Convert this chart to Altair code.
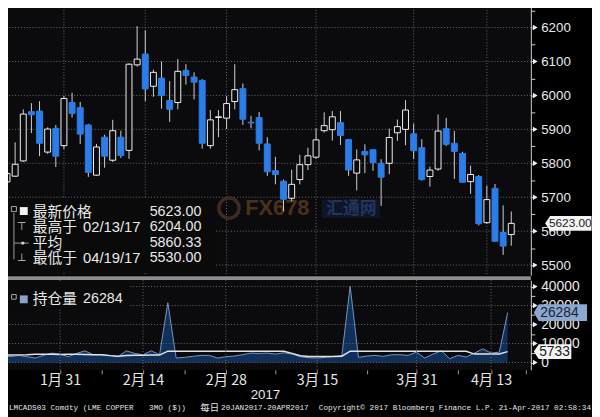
import altair as alt
import pandas as pd

# ---------------- data ----------------
dates = ["01/20","01/23","01/24","01/25","01/26","01/27","01/30","01/31",
         "02/01","02/02","02/03","02/06","02/07","02/08","02/09","02/10",
         "02/13","02/14","02/15","02/16","02/17","02/20","02/21","02/22","02/23","02/24","02/27","02/28",
         "03/01","03/02","03/03","03/06","03/07","03/08","03/09","03/10","03/13","03/14","03/15","03/16","03/17",
         "03/20","03/21","03/22","03/23","03/24","03/27","03/28","03/29","03/30","03/31",
         "04/03","04/04","04/05","04/06","04/07","04/10","04/11","04/12","04/13","04/18","04/19","04/20"]

opens = [5745,5762,5807,5952,5954,5833,5903,5852,5979,5964,
         5913,5765,5877,5809,5877,5838,6090,6122,6027,6051,
         5985,5979,6074,6054,6044,5852,5935,5933,5982,6020,
         5921,5935,5857,5778,5747,5697,5752,5796,5818,5896,
         5899,5920,5870,5771,5835,5840,5800,5800,5890,5900,
         5887,5846,5761,5783,5902,5859,5829,5746,5761,5625,
         5726,5596,5590]
highs = [5790,5862,5959,5977,5983,5906,5913,5998,6008,5981,
         5916,5857,5884,5928,5896,6095,6204,6192,6076,6100,
         6042,6107,6092,6068,6048,5957,5957,5998,6092,6035,
         5940,5951,5877,5819,5752,5781,5825,5846,5903,5950,
         5954,5954,5872,5841,5856,5840,5812,5902,5929,5986,
         5917,5871,5790,5944,5934,5895,5834,5793,5765,5734,
         5739,5676,5658]
lows = [5730,5760,5804,5889,5821,5828,5789,5842,5935,5857,
        5760,5763,5787,5804,5816,5813,6085,5983,5996,5961,
        5922,5959,6032,5988,5843,5843,5877,5901,5959,5913,
        5903,5838,5763,5738,5659,5688,5738,5780,5813,5891,
        5867,5854,5763,5720,5771,5778,5674,5768,5866,5853,
        5812,5749,5731,5778,5851,5754,5742,5710,5617,5622,
        5568,5530,5557]
closes = [5770,5797,5945,5943,5859,5901,5821,5991,5947,5886,
          5773,5848,5821,5896,5823,6092,6107,6019,6068,6000,
          5959,6071,6059,6039,5859,5928,5937,5976,6017,5930,
          5919,5859,5775,5767,5694,5738,5796,5822,5869,5911,
          5937,5882,5780,5810,5825,5802,5759,5876,5908,5957,
          5837,5752,5780,5895,5856,5835,5744,5767,5622,5693,
          5570,5556,5623]

# open interest (data through 04/19)
open_interest = [3730,3030,3730,3030,2340,3730,4940,4420,3030,4770,
                 6150,4070,4070,3730,3030,6150,4770,4070,6150,4070,
                 31460,2340,2690,3210,3730,3730,2340,3030,3380,4070,
                 4940,4770,4940,4420,5110,4420,3030,2510,2340,2690,
                 3210,3730,40300,2690,3380,3730,3210,4070,4070,3730,
                 5460,2340,4420,6150,1990,3730,2860,4940,7190,4940,
                 5460,26284]
oi_white = [3900,3950,4000,4100,4300,4300,4300,4200,4300,4300,
            4200,4100,4100,3600,3300,3700,3800,3800,3900,3900,
            5950,5950,5950,5950,5950,5950,5950,5950,5950,5950,
            5950,5950,5950,5950,5900,4800,3500,3150,3100,3100,
            3150,3300,5950,5950,5950,5950,5950,5950,5950,5950,
            5950,5950,5950,5950,5950,5950,5950,4420,4420,4420,
            4420,5733]

avg_text = "5860.33"
axis_label_dates = ["01/31", "02/14", "02/28", "03/15", "03/31", "04/13"]
axis_label_text = ["1月 31", "2月 14", "2月 28", "3月 15", "3月 31", "4月 13"]
tick_dates = ["01/31","02/07","02/14","02/21","02/28","03/08","03/15","03/23","03/31","04/07","04/13"]
price_major = [5500, 5600, 5700, 5800, 5900, 6000, 6100, 6200]
oi_major = [0, 10000, 20000, 30000, 40000]

# ---------------- style ----------------
FONT = "Liberation Sans"
CJK = "Noto Sans CJK SC"
MONO = "Liberation Mono"
BLUE = "#2b7de9"
GRID = "#6a6a6a"
W, H1, H2 = 537, 275, 91

n = len(dates)
cd = pd.DataFrame({"i": list(range(n)), "date": dates, "o": opens, "h": highs,
                   "l": lows, "c": closes})
cd["up"] = cd["c"] >= cd["o"]
oid = pd.DataFrame({"i": list(range(len(open_interest))), "oi": open_interest, "w": oi_white})

label_idx = [dates.index(d) for d in axis_label_dates]
tick_idx = [dates.index(d) for d in tick_dates] + [63.2]

xs = alt.Scale(domain=[-0.12, 63.8], nice=False, zero=False)
ys1 = alt.Scale(domain=[5470.3, 6269.8], nice=False, zero=False)
ys2 = alt.Scale(domain=[-3900, 43420], nice=False, zero=False)

yaxis1 = alt.Axis(orient="right", values=list(range(5500, 6300, 50)),
                  labelExpr="datum.value % 100 == 0 ? '' + datum.value : ''",
                  title=None, grid=False, domain=True, domainColor="#cfcfcf",
                  tickColor="#cfcfcf", tickSize=4, labelPadding=6, labelFont=FONT,
                  labelFontSize=13.5, labelColor="#e8e8e8", labelOverlap=False,
                  labelBound=False, labelFlush=False)
yaxis2 = alt.Axis(orient="right", values=list(range(0, 45000, 5000)),
                  labelExpr="datum.value % 10000 == 0 ? '' + datum.value : ''",
                  title=None, grid=False, domain=True, domainColor="#cfcfcf",
                  tickColor="#cfcfcf", tickSize=4, labelPadding=6, labelFont=FONT,
                  labelFontSize=14, labelColor="#e8e8e8", labelOverlap=False,
                  labelBound=False, labelFlush=False)
expr = "".join(f"datum.value == {i} ? '{t}' : " for i, t in zip(label_idx, axis_label_text)) + "''"
xaxis2 = alt.Axis(values=tick_idx, labelExpr=expr, title=None, grid=False, domain=False,
                  tickColor="#9a9a9a", tickSize=4, labelFont=CJK, labelFontSize=14.5,
                  labelColor="#e6e6e6", labelPadding=6.5, labelBaseline="middle",
                  labelOverlap=False, labelBound=False, labelFlush=False)

X1 = alt.X("i:Q", scale=xs, axis=None)
X2 = alt.X("i:Q", scale=xs, axis=xaxis2)


def one():
    return pd.DataFrame({"k": [0]})


def text(s, x, y, size, color="#e8e8e8", font=CJK, align="left", weight="normal"):
    return alt.Chart(pd.DataFrame({"t": [s]})).mark_text(
        align=align, baseline="middle", font=font, fontSize=size, color=color,
        fontWeight=weight).encode(x=alt.value(x), y=alt.value(y), text="t:N")


def box(x1, x2, y1, y2, color):
    return alt.Chart(one()).mark_rect(color=color).encode(
        x=alt.value(x1), x2=alt.value(x2), y=alt.value(y1), y2=alt.value(y2))


def tag_path(w, h, tip):
    a = 2.0 / w
    hh = h / 2 * a
    t = -1 + tip * a
    return f"M -1 0 L {t:.3f} {-hh:.3f} L 1 {-hh:.3f} L 1 {hh:.3f} L {t:.3f} {hh:.3f} Z"


def tag(value, yscale, yaxis, cx, w, h, fill, txt, tcolor, tsize, tx):
    d = pd.DataFrame({"v": [value], "t": [txt]})
    Y = alt.Y("v:Q", scale=yscale, axis=yaxis)
    shape = alt.Chart(d).mark_point(shape=tag_path(w, h, 5), filled=True, color=fill,
                                    opacity=1, size=w * w).encode(x=alt.value(cx), y=Y)
    lab = alt.Chart(d).mark_text(align="center", baseline="middle", font=FONT,
                                 fontSize=tsize, color=tcolor).encode(
        x=alt.value(tx), y=Y, text="t:N")
    return [shape, lab]


# ---------------- main panel ----------------
Y1 = lambda f: alt.Y(f, scale=ys1, axis=yaxis1)

hgrid1 = alt.Chart(pd.DataFrame({"v": price_major})).mark_rule(
    color=GRID, strokeDash=[1, 2], strokeWidth=1).encode(y=Y1("v:Q"))
vgrid1 = alt.Chart(pd.DataFrame({"i": label_idx})).mark_rule(
    color=GRID, strokeDash=[1, 2], strokeWidth=1).encode(x=X1)

wm = [
    alt.Chart(one()).mark_point(shape="circle", filled=False, stroke="#3e2a22",
                                strokeWidth=3.5, size=420, opacity=1).encode(
        x=alt.value(231), y=alt.value(207)),
    text("FX678", 280, 207, 22, color="#4a3219", font=FONT, align="center", weight="bold"),
    box(325, 384, 198, 217, "#0d1527"),
    text("汇通网", 355, 207.5, 17, color="#22355c", align="center", weight="bold"),
]

wicks = alt.Chart(cd).mark_rule(color="#d2d2d2", strokeWidth=1, clip=True).encode(
    x=X1, y=Y1("l:Q"), y2="h:Q")
bodies = alt.Chart(cd).mark_bar(size=6, strokeWidth=1, clip=True).encode(
    x=X1, y=Y1("o:Q"), y2="c:Q",
    fill=alt.condition("datum.up", alt.value("#0b0b0e"), alt.value(BLUE)),
    stroke=alt.condition("datum.up", alt.value("#f2f2f2"), alt.value(BLUE)))

hi_i = highs.index(max(highs))
lo_i = lows.index(min(lows))
legend1 = [
    box(3, 216, 197, 271, "#0a0a0a"),
    alt.Chart(one()).mark_point(shape="square", filled=False, stroke="#a8a8a8",
                                strokeWidth=1, size=26, opacity=1).encode(
        x=alt.value(13), y=alt.value(208)),
    alt.Chart(one()).mark_point(shape="square", filled=True, color="#f2f2f2",
                                size=64, opacity=1).encode(x=alt.value(23), y=alt.value(210)),
    alt.Chart(one()).mark_rule(color="#9a9a9a").encode(
        x=alt.value(13), y=alt.value(212), y2=alt.value(259)),
    alt.Chart(one()).mark_rule(color="#9a9a9a").encode(
        x=alt.value(13), x2=alt.value(28), y=alt.value(242.5)),
    alt.Chart(one()).mark_point(shape="circle", filled=True, color="#cfcfcf",
                                size=12, opacity=1).encode(x=alt.value(22), y=alt.value(242.5)),
    text("⊤", 21, 226.5, 11, color="#c8c8c8", font="DejaVu Sans", align="center"),
    text("⊥", 21, 258, 11, color="#c8c8c8", font="DejaVu Sans", align="center"),
    text("最新价格", 32, 211, 15),
    text("最高于", 32, 226.5, 15),
    text("平均", 32, 242.5, 15),
    text("最低于", 32, 258, 15),
    text(dates[hi_i] + "/17", 83, 226.5, 15, font=FONT),
    text(dates[lo_i] + "/17", 83, 258, 15, font=FONT),
    text(f"{closes[-1]:.2f}", 203, 211, 14.5, font=FONT, align="right"),
    text(f"{highs[hi_i]:.2f}", 203, 226.5, 14.5, font=FONT, align="right"),
    text(avg_text, 203, 242.5, 14.5, font=FONT, align="right"),
    text(f"{lows[lo_i]:.2f}", 203, 258, 14.5, font=FONT, align="right"),
]

tri1 = alt.Chart(pd.DataFrame({"v": price_major})).mark_point(
    shape="triangle-right", filled=True, color="#f0f0f0", size=30, opacity=1).encode(
    x=alt.value(541.5), y=Y1("v:Q"))

tag1 = tag(closes[-1], ys1, yaxis1, 575, 47, 15, "#f4f4f4", f"{closes[-1]:.2f}",
           "#202020", 12, 577)

main = alt.layer(hgrid1, vgrid1, *wm, wicks, bodies, *legend1, tri1, *tag1).properties(
    width=W, height=H1)

# ---------------- open interest panel ----------------
Y2 = lambda f: alt.Y(f, scale=ys2, axis=yaxis2)

area = alt.Chart(oid).mark_area(
    color="#10305a", opacity=1, clip=True,
    line=alt.OverlayMarkDef(color="#7a95bd", strokeWidth=1)).encode(
    x=X2, y=Y2("oi:Q"), y2=alt.value(H2))
wline = alt.Chart(oid).mark_line(color="#e2e2e2", strokeWidth=1.5, clip=True).encode(
    x=X2, y=Y2("w:Q"))
hgrid2 = alt.Chart(pd.DataFrame({"v": oi_major})).mark_rule(
    color=GRID, strokeDash=[1, 2], strokeWidth=1).encode(y=Y2("v:Q"))
vgrid2 = alt.Chart(pd.DataFrame({"i": label_idx})).mark_rule(
    color=GRID, strokeDash=[1, 2], strokeWidth=1).encode(x=X2)

legend2 = [
    box(3, 130, 2, 29, "#0a0a0a"),
    alt.Chart(one()).mark_point(shape="square", filled=False, stroke="#a8a8a8",
                                strokeWidth=1, size=22, opacity=1).encode(
        x=alt.value(13), y=alt.value(17)),
    alt.Chart(one()).mark_point(shape="square", filled=True, color="#89a3c9",
                                size=64, opacity=1).encode(x=alt.value(23), y=alt.value(19.5)),
    text("持仓量", 32, 19.7, 15),
    text(str(open_interest[-1]), 83, 19.7, 14.5, font=FONT),
]

tri2 = alt.Chart(pd.DataFrame({"v": oi_major})).mark_point(
    shape="triangle-right", filled=True, color="#f0f0f0", size=30, opacity=1).encode(
    x=alt.value(541.5), y=Y2("v:Q"))

tag2a = tag(open_interest[-1], ys2, yaxis2, 567, 54, 17, "#8ea7cc",
            str(open_interest[-1]), "#14233d", 14, 566)
tag2b = tag(oi_white[-1], ys2, yaxis2, 559, 38, 15, "#f4f4f4",
            str(oi_white[-1]), "#202020", 14, 561)

sep = box(0, W, -4, 0, "#8d8d8d")
year = text("2017", 268, 117, 13.5, font=FONT, align="center", color="#e6e6e6")
FC = "#e4e4e4"
footer = [
    text("LMCADS03 Comdty (LME COPPER", 8, 130, 7.8, font=MONO, color=FC),
    text("3MO ($))", 150, 130, 7.8, font=MONO, color=FC),
    text("每日", 202, 130, 9.5, font=CJK, color=FC),
    text("20JAN2017-20APR2017", 223, 130, 7.8, font=MONO, color=FC),
    text("Copyright© 2017 Bloomberg Finance L.P. 21-Apr-2017 02:58:34",
         598, 130, 7.8, font=MONO, color=FC, align="right"),
]

lower = alt.layer(area, wline, hgrid2, vgrid2, *legend2, tri2, *tag2a, *tag2b,
                  sep, year, *footer).properties(width=W, height=H2)

chart = alt.vconcat(main, lower, spacing=0).properties(
    padding={"left": -8, "top": -8, "right": 0, "bottom": 4},
    background="#000000",
).configure_view(stroke=None, fill="#0b0b0e")

chart.save("out.html", embed_options={"renderer": "svg", "actions": False})
